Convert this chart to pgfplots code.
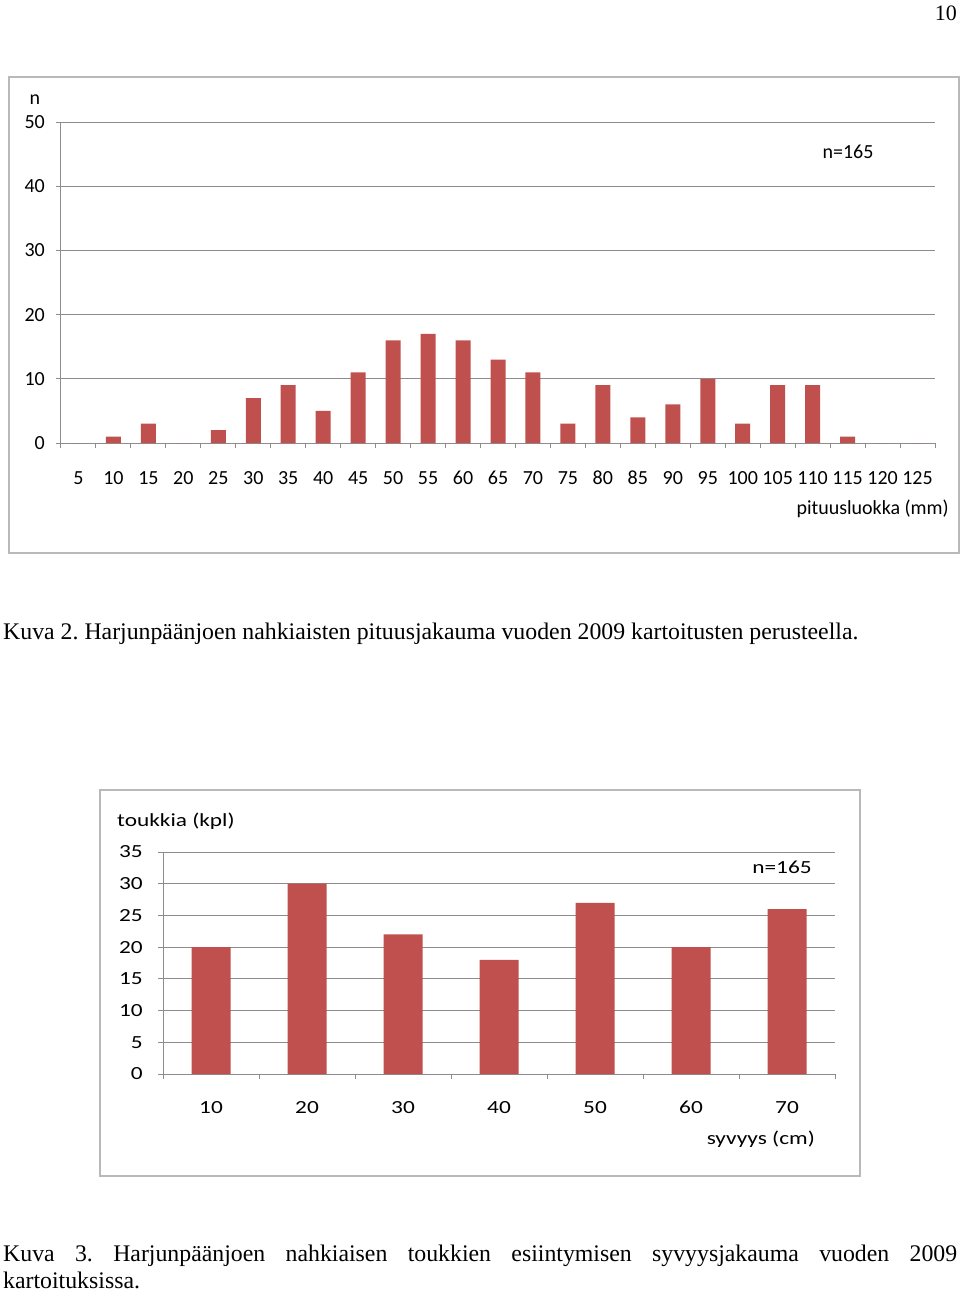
\documentclass[border=0pt]{standalone}
\usepackage{graphicx}
\usepackage{pgfplots}
\pgfplotsset{compat=1.18}
\usepackage{fontspec}
\setmainfont{Liberation Serif}
\newfontfamily\carlito{Carlito}
\definecolor{barred}{RGB}{192,80,77}
\definecolor{gridgray}{RGB}{140,140,140}
\definecolor{framegray}{RGB}{185,185,185}
\newcommand{\sx}[1]{\scalebox{1.26}[1]{#1}}
\frenchspacing

\begin{document}
\begin{tikzpicture}[x=1pt,y=1pt]
\path[use as bounding box] (0,0) rectangle (960,-1291);
\node[anchor=base east, inner sep=0pt, font=\fontsize{22}{22}\selectfont] at (957,-20) {10};

% ---------- Chart 1 ----------
\draw[framegray, line width=1.5pt] (9,-77) rectangle (959,-553);
\begin{axis}[
  at={(61pt,-443pt)}, anchor=south west,
  scale only axis, width=874pt, height=321pt,
  xmin=-0.5, xmax=24.5, ymin=0, ymax=50,
  ytick={0,10,20,30,40,50},
  xtick={-0.5,0.5,...,24.5},
  x tick label as interval,
  xticklabels={5,10,15,20,25,30,35,40,45,50,55,60,65,70,75,80,85,90,95,100,105,110,115,120,125},
  axis x line*=bottom, axis y line*=left,
  axis line style={gridgray, line width=1pt, -},
  ymajorgrids, grid style={gridgray, line width=1pt},
  tick style={gridgray, line width=1pt},
  tick align=outside, major tick length=5pt,
  tick label style={font=\carlito\fontsize{20}{20}\selectfont, text=black},
  /pgf/number format/assume math mode=true,
  yticklabel style={inner sep=0pt, xshift=-11pt},
  xticklabel style={inner sep=0pt, anchor=base, yshift=-36pt},
  ybar, bar width=15pt,
]
\addplot[fill=barred, draw=none] coordinates {
(0,0) (1,1) (2,3) (3,0) (4,2) (5,7) (6,9) (7,5) (8,11) (9,16) (10,17) (11,16) (12,13)
(13,11) (14,3) (15,9) (16,4) (17,6) (18,10) (19,3) (20,9) (21,9) (22,1) (23,0) (24,0)};
\end{axis}
\node[font=\carlito\fontsize{20}{20}\selectfont] at (35,-100) {n};
\node[font=\carlito\fontsize{20}{20}\selectfont] at (848,-152) {n=165};
\node[anchor=east, inner sep=0pt, font=\carlito\fontsize{20}{20}\selectfont] at (949,-509) {pituusluokka (mm)};

\node[anchor=base west, inner sep=0pt, font=\fontsize{23.8}{23.8}\selectfont] at (3,-639)
  {Kuva 2. Harjunpäänjoen nahkiaisten pituusjakauma vuoden 2009 kartoitusten perusteella.};

% ---------- Chart 2 ----------
\draw[framegray, line width=1.5pt] (100,-790) rectangle (860,-1176);
\begin{axis}[
  at={(163pt,-1074pt)}, anchor=south west,
  scale only axis, width=672pt, height=222pt,
  xmin=-0.5, xmax=6.5, ymin=0, ymax=35,
  ytick={0,5,10,15,20,25,30,35},
  yticklabel={\sx{\pgfmathprintnumber{\tick}}},
  xtick={-0.5,0.5,...,6.5},
  x tick label as interval,
  xticklabels={\sx{10},\sx{20},\sx{30},\sx{40},\sx{50},\sx{60},\sx{70}},
  axis x line*=bottom, axis y line*=left,
  axis line style={gridgray, line width=1pt, -},
  ymajorgrids, grid style={gridgray, line width=1pt},
  tick style={gridgray, line width=1pt},
  tick align=outside, major tick length=5pt,
  tick label style={font=\carlito\fontsize{18.5}{18.5}\selectfont, text=black},
  /pgf/number format/assume math mode=true,
  yticklabel style={inner sep=0pt, xshift=-15pt},
  xticklabel style={inner sep=0pt, anchor=base, yshift=-34pt},
  ybar, bar width=39pt,
]
\addplot[fill=barred, draw=none] coordinates {
(0,20) (1,30) (2,22) (3,18) (4,27) (5,20) (6,26)};
\end{axis}
\node[anchor=west, inner sep=0pt, font=\carlito\fontsize{18.5}{18.5}\selectfont] at (117,-821) {\sx{toukkia (kpl)}};
\node[font=\carlito\fontsize{18.5}{18.5}\selectfont] at (782,-867) {\sx{n=165}};
\node[anchor=east, inner sep=0pt, font=\carlito\fontsize{18.5}{18.5}\selectfont] at (815,-1139) {\sx{syvyys (cm)}};

\node[anchor=base west, inner sep=0pt, font=\fontsize{23.8}{23.8}\selectfont] at (3,-1261)
  {\makebox[954pt][s]{Kuva 3. Harjunpäänjoen nahkiaisen toukkien esiintymisen syvyysjakauma vuoden 2009}};
\node[anchor=base west, inner sep=0pt, font=\fontsize{23.8}{23.8}\selectfont] at (3,-1288)
  {kartoituksissa.};
\end{tikzpicture}
\end{document}
